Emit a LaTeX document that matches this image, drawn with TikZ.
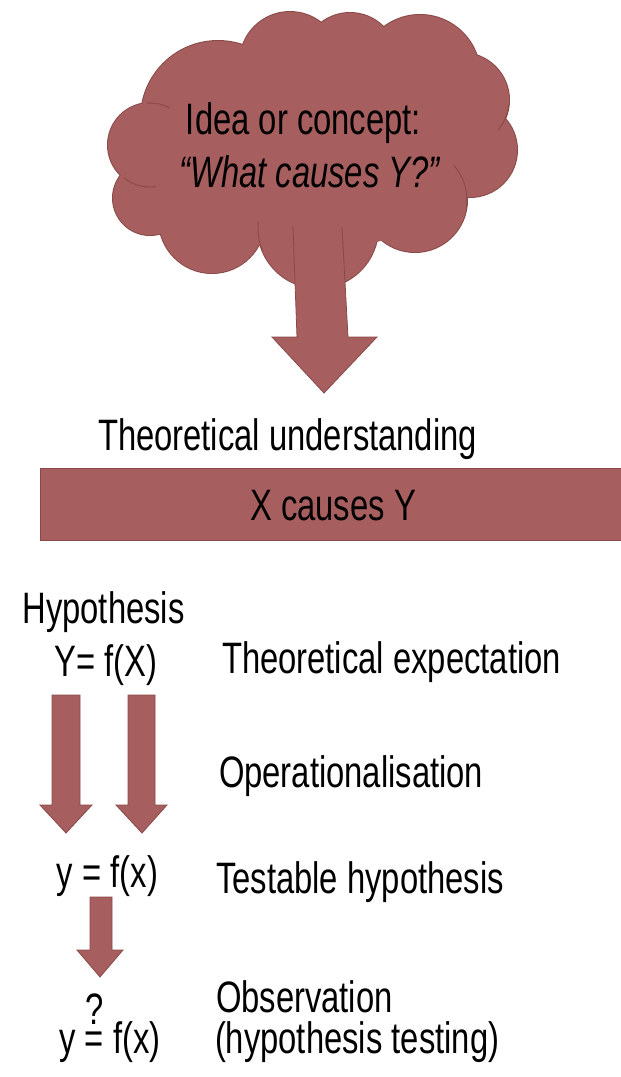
\documentclass[tikz,border=0pt]{standalone}
\usepackage{fontspec}
\setmainfont{Liberation Sans}[FakeStretch=0.745]
\definecolor{clay}{RGB}{166,94,94}
\definecolor{clayedge}{RGB}{138,74,74}
\newcommand\lblfont{\fontsize{44}{50}\selectfont}
\tikzset{
  lbl/.style={inner sep=0pt, outer sep=0pt, font=\lblfont, text=black},
  lobeline/.style={draw=clayedge, line width=0.9pt},
  blockfill/.style={fill=clay},
  blockedge/.style={draw=clayedge, line width=0.8pt, line join=miter},
  barbox/.style={fill=clay, draw=clayedge, line width=0.8pt, inner sep=0pt,
    minimum width=581pt, minimum height=72pt}
}
\begin{document}
\begin{tikzpicture}[x=1pt, y=-1pt]
\useasboundingbox (0,0) rectangle (621,1077);

% --- cloud: outline pass, then fill pass over the union of lobes
\def\lobelist{150/145/42, 218/118/77, 290/62/50, 350/60/47, 420/75/60,
  462/100/47, 470/150/47, 415/200/52, 318/228/60, 212/220/53, 150/198/37}
\foreach \cx/\cy/\r in \lobelist
  \draw[clayedge, line width=2pt] (\cx,\cy) circle[radius=\r];
\foreach \cx/\cy/\r in \lobelist
  \fill[clay] (\cx,\cy) circle[radius=\r];
\fill[clay] (310,150) ellipse[x radius=170, y radius=100];

% inner lobe arcs
\draw[lobeline] ([shift={(-94:42)}]150,145) arc[start angle=-94, end angle=-62, radius=42];
\draw[lobeline] ([shift={(128:42)}]150,145) arc[start angle=128, end angle=82, radius=42];
\draw[lobeline] ([shift={(6:47)}]462,100) arc[start angle=6, end angle=40, radius=47];
\draw[lobeline] ([shift={(10:52)}]415,200) arc[start angle=10, end angle=-42, radius=52];
\draw[lobeline] ([shift={(158:60)}]318,228) arc[start angle=158, end angle=186, radius=60];

% cloud text
\node[lbl, anchor=base] (idea) at (303.5,134) {Idea or concept:};
\node[lbl, anchor=base] (question) at (309.5,187) {\itshape “What causes Y?”};

% big arrow out of the cloud
\fill[blockfill] (293,227) -- (342,227) -- (348,337) -- (377,337) -- (324,393)
  -- (272,337) -- (297,337) -- cycle;
\draw[blockedge] (342,227) -- (348,337) -- (377,337) -- (324,393)
  -- (272,337) -- (297,337) -- (293,227);

% theoretical understanding
\node[lbl, anchor=base west] (theory) at (98,450) {Theoretical understanding};
\node[barbox] (bar) at (330.5,504) {};
\node[lbl, anchor=base] (causes) at (333,520) {X causes Y};

% hypothesis column
\node[lbl, anchor=base] (hyp) at (103.5,623) {Hypothesis};
\node[lbl, anchor=base] (hypeq) at (106,676) {Y= f(X)};
\node[lbl, anchor=base west] (expect) at (222,673) {Theoretical expectation};

% operationalisation arrows
\filldraw[blockfill, blockedge] (52,695) -- (80,695) -- (80,805) -- (92,805)
  -- (66,833) -- (40,805) -- (52,805) -- cycle;
\filldraw[blockfill, blockedge] (128,695) -- (155,695) -- (155,805) -- (167,805)
  -- (142,833) -- (116,805) -- (128,805) -- cycle;
\node[lbl, anchor=base west] (oper) at (219,787) {Operationalisation};

% testable hypothesis
\node[lbl, anchor=base] (testeq) at (107.5,887) {y = f(x)};
\node[lbl, anchor=base west] (testable) at (216,893) {Testable hypothesis};

% testing arrow
\filldraw[blockfill, blockedge] (90,897) -- (112,897) -- (112,950) -- (123,950)
  -- (100,977) -- (77,950) -- (90,950) -- cycle;

% observation
\node[lbl, anchor=base] (obseq) at (110,1053)
  {y \ooalign{\hidewidth\raisebox{29pt}{?}\hidewidth\cr=\cr} f(x)};
\node[lbl, anchor=base west] (obs) at (216,1012) {Observation};
\node[lbl, anchor=base west] (obstest) at (215,1053) {(hypothesis testing)};
\end{tikzpicture}
\end{document}
